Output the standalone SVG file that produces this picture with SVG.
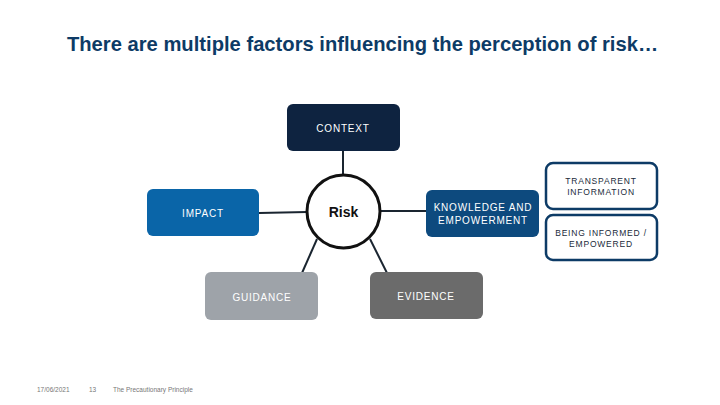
<svg xmlns="http://www.w3.org/2000/svg" width="720" height="405" viewBox="0 0 720 405">
<style>
.lbl{font-family:"Liberation Sans",Arial,sans-serif;font-size:10px;fill:#ffffff;text-anchor:middle;letter-spacing:0.8px}
.lbl2{font-family:"Liberation Sans",Arial,sans-serif;font-size:8.5px;fill:#1a2a3a;text-anchor:middle;letter-spacing:0.8px}
.foot{font-family:"Liberation Sans",Arial,sans-serif;font-size:6.5px;fill:#777}
.conn{stroke:#1a2530;stroke-width:2;fill:none}
.outline{fill:#ffffff;stroke:#0d3b66;stroke-width:2.5}
</style>
<rect width="720" height="405" fill="#ffffff"/>
<text x="362.5" y="51" font-family="'Liberation Sans',Arial,sans-serif" font-size="20.2" font-weight="bold" fill="#0d3b66" text-anchor="middle">There are multiple factors influencing the perception of risk…</text>
<g id="connectors">
<line class="conn" x1="343" y1="151" x2="343" y2="175"/>
<line class="conn" x1="259" y1="213" x2="307" y2="212"/>
<line class="conn" x1="380" y1="211" x2="426" y2="211"/>
<line class="conn" x1="317" y1="239" x2="302" y2="273"/>
<line class="conn" x1="370" y1="239" x2="387" y2="273"/>
</g>
<g id="context">
<rect x="287" y="104" width="113" height="47" rx="6" fill="#0e2340"/>
<text class="lbl" x="343" y="132">CONTEXT</text>
</g>
<g id="risk">
<circle cx="343.5" cy="211.5" r="36.5" fill="#ffffff" stroke="#111111" stroke-width="3"/>
<text x="343.5" y="217" font-family="'Liberation Sans',Arial,sans-serif" font-size="14" font-weight="bold" fill="#111111" text-anchor="middle">Risk</text>
</g>
<g id="impact">
<rect x="147" y="189" width="112" height="47" rx="6" fill="#0a65a8"/>
<text class="lbl" x="203" y="217">IMPACT</text>
</g>
<g id="knowledge">
<rect x="426" y="190" width="113" height="47" rx="6" fill="#0d4a7e"/>
<text class="lbl" x="483" y="211">KNOWLEDGE AND</text>
<text class="lbl" x="483" y="224">EMPOWERMENT</text>
</g>
<g id="transparent">
<rect class="outline" x="546" y="163" width="111" height="46" rx="7"/>
<text class="lbl2" x="601" y="184">TRANSPARENT</text>
<text class="lbl2" x="601" y="195">INFORMATION</text>
</g>
<g id="informed">
<rect class="outline" x="546" y="215" width="111" height="45" rx="7"/>
<text class="lbl2" x="601" y="236">BEING INFORMED /</text>
<text class="lbl2" x="601" y="247">EMPOWERED</text>
</g>
<g id="guidance">
<rect x="205" y="272" width="113" height="48" rx="6" fill="#9ea3a9"/>
<text class="lbl" x="262" y="301">GUIDANCE</text>
</g>
<g id="evidence">
<rect x="370" y="272" width="113" height="47" rx="6" fill="#6b6b6b"/>
<text class="lbl" x="426" y="300">EVIDENCE</text>
</g>
<text class="foot" x="37" y="392">17/06/2021</text>
<text class="foot" x="89" y="392">13</text>
<text class="foot" x="113" y="392">The Precautionary Principle</text>
</svg>
